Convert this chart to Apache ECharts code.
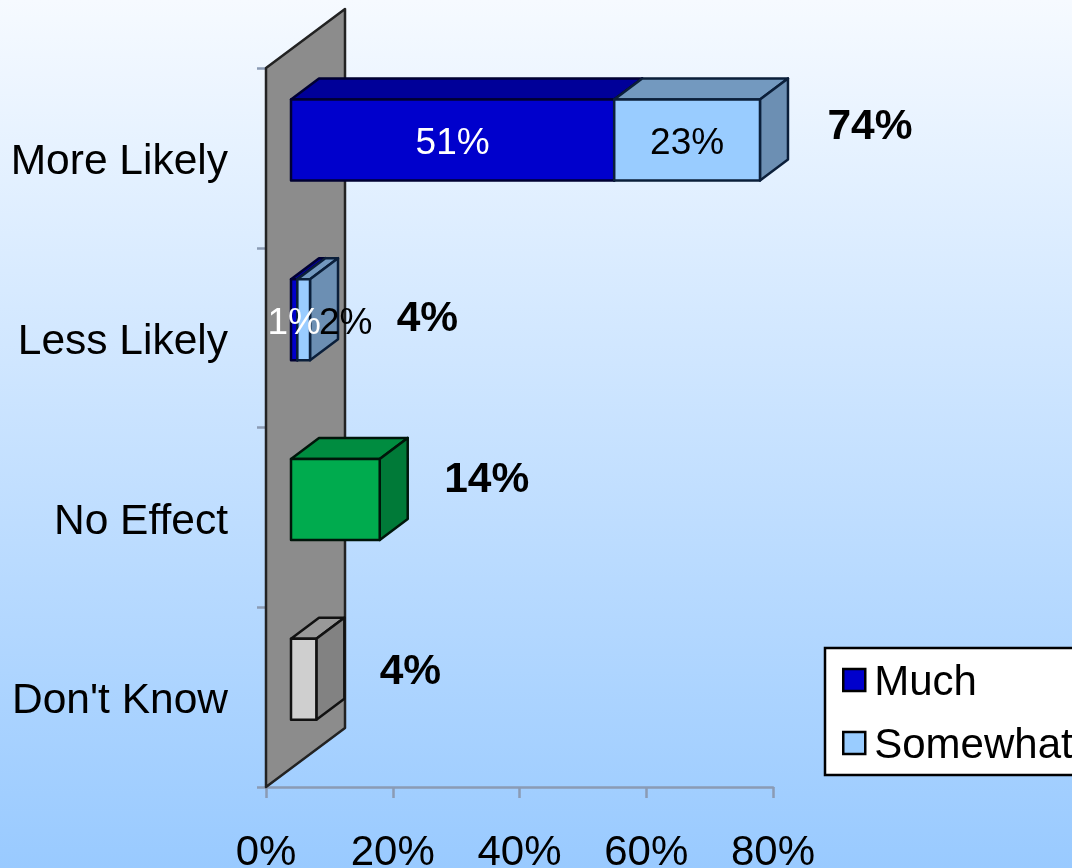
<!DOCTYPE html>
<html>
<head>
<meta charset="utf-8">
<style>html,body{margin:0;padding:0;overflow:hidden}#chart{width:1072px;height:868px}</style>
<script src="https://cdn.jsdelivr.net/npm/echarts@6/dist/echarts.min.js"></script>
</head>
<body>
<div id="chart"></div>
<script>
// Survey responses, in percent
const categories = ['More Likely', 'Less Likely', 'No Effect', "Don't Know"];
const much = [51, 1, null, null];
const somewhat = [23, 2, null, null];
const noEffect = [null, null, 14, null];
const dontKnow = [null, null, null, 4];
const totals = [74, 4, 14, 4];
const xTicks = { min: 0, max: 80, step: 20 };

// Hand-placed label shifts (pixels), one per category
const totalNudge = [[110, -13], [111, 0], [107, -19], [94, -7]];
const somewhatLabelNudge = [0, 42, 0, 0];

// Oblique projection used for every box and for the back wall
const FONT = '"Liberation Sans", Arial, sans-serif';
const FRONT_SHIFT = 25, BAR_H = 81, BAR_RISE = 18;
const DEPTH_X = 28, DEPTH_Y = 21;
const WALL_X = 79, WALL_Y = 59;

const palettes = {
  much: { front: '#0000cc', top: '#000099', side: '#000080', line: '#000033' },
  somewhat: { front: '#99ccff', top: '#7399bf', side: '#6c8fb3', line: '#0b1f3a' },
  noEffect: { front: '#00ab4e', top: '#008c40', side: '#007a38', line: '#00160a' },
  dontKnow: { front: '#cfcfcf', top: '#999999', side: '#828282', line: '#111111' }
};

function boxItem(palette) {
  return function (params, api) {
    const left = api.coord([api.value(0), api.value(2)]);
    const right = api.coord([api.value(1), api.value(2)]);
    const x0 = left[0] + FRONT_SHIFT, x1 = right[0] + FRONT_SHIFT;
    const y0 = left[1] - BAR_RISE - BAR_H / 2, y1 = y0 + BAR_H;
    const stroke = { stroke: palette.line, lineWidth: 2.5, lineJoin: 'round' };
    return {
      type: 'group',
      children: [
        { type: 'polygon', shape: { points: [[x0, y0], [x0 + DEPTH_X, y0 - DEPTH_Y], [x1 + DEPTH_X, y0 - DEPTH_Y], [x1, y0]] },
          style: Object.assign({ fill: palette.top }, stroke) },
        { type: 'polygon', shape: { points: [[x1, y0], [x1 + DEPTH_X, y0 - DEPTH_Y], [x1 + DEPTH_X, y1 - DEPTH_Y], [x1, y1]] },
          style: Object.assign({ fill: palette.side }, stroke) },
        { type: 'rect', shape: { x: x0, y: y0, width: x1 - x0, height: BAR_H },
          style: Object.assign({ fill: palette.front }, stroke) }
      ]
    };
  };
}

function boxSeries(name, values, base, palette) {
  const rows = [];
  values.forEach(function (v, i) {
    if (v !== null) rows.push([base ? base[i] : 0, (base ? base[i] : 0) + v, i]);
  });
  return {
    name: name, type: 'custom', coordinateSystem: 'cartesian2d', clip: false, z: 3,
    itemStyle: { color: palette.front },
    encode: { x: [0, 1], y: 2 },
    data: rows,
    renderItem: boxItem(palette)
  };
}

const wallSeries = {
  type: 'custom', coordinateSystem: 'cartesian2d', clip: false, z: 2, silent: true,
  encode: { x: 0 },
  data: [[xTicks.min]],
  renderItem: function (params, api) {
    const sys = params.coordSys;
    const x = sys.x, top = sys.y, bottom = sys.y + sys.height;
    return {
      type: 'polygon',
      shape: { points: [[x, top], [x + WALL_X, top - WALL_Y], [x + WALL_X, bottom - WALL_Y], [x, bottom]] },
      style: { fill: '#8c8c8c', stroke: '#222222', lineWidth: 2.5, lineJoin: 'round' }
    };
  }
};

// Value labels sit above every box so the narrow segments stay readable
const segmentRows = [];
categories.forEach(function (c, i) {
  if (much[i] !== null) segmentRows.push([much[i] / 2, i, much[i], '#ffffff', 0]);
  if (somewhat[i] !== null) segmentRows.push([much[i] + somewhat[i] / 2, i, somewhat[i], '#000000', somewhatLabelNudge[i]]);
});
const segmentLabels = {
  type: 'custom', coordinateSystem: 'cartesian2d', clip: false, z: 5, silent: true,
  data: segmentRows,
  renderItem: function (params, api) {
    const p = api.coord([api.value(0), api.value(1)]);
    const row = segmentRows[params.dataIndex];
    return {
      type: 'text',
      style: { text: row[2] + '%', x: p[0] + FRONT_SHIFT + row[4], y: p[1] - BAR_RISE + 4,
        fill: row[3], align: 'center', verticalAlign: 'middle', font: '37px ' + FONT }
    };
  }
};

const totalLabels = {
  type: 'custom', coordinateSystem: 'cartesian2d', clip: false, z: 5, silent: true,
  data: totals.map(function (t, i) { return [t, i]; }),
  renderItem: function (params, api) {
    const p = api.coord([api.value(0), api.value(1)]);
    const shift = totalNudge[params.dataIndex];
    return {
      type: 'text',
      style: { text: api.value(0) + '%', x: p[0] + FRONT_SHIFT + shift[0], y: p[1] - BAR_RISE + shift[1],
        fill: '#000000', align: 'center', verticalAlign: 'middle', font: 'bold 42.5px ' + FONT }
    };
  }
};

const axisGrey = '#8b9bb4';
const chart = echarts.init(document.getElementById('chart'), null, { renderer: 'canvas' });
chart.setOption({
  animation: false,
  backgroundColor: {
    type: 'linear', x: 0, y: 0, x2: 0, y2: 1,
    colorStops: [{ offset: 0, color: '#f6faff' }, { offset: 1, color: '#99caff' }]
  },
  grid: { left: 266, top: 68, width: 507, height: 719, outerBoundsMode: 'none' },
  xAxis: {
    type: 'value', min: xTicks.min, max: xTicks.max, interval: xTicks.step,
    splitLine: { show: false },
    axisLine: { show: true, lineStyle: { color: axisGrey, width: 2.5 } },
    axisTick: { show: true, length: 11, lineStyle: { color: axisGrey, width: 2.5 } },
    axisLabel: { formatter: '{value}%', color: '#000', fontFamily: FONT, fontSize: 42, margin: 45 }
  },
  yAxis: {
    type: 'category', inverse: true, data: categories,
    axisLine: { show: true, lineStyle: { color: axisGrey, width: 2.5 } },
    axisTick: { show: true, length: 9, lineStyle: { color: axisGrey, width: 2.5 } },
    axisLabel: { color: '#000', fontFamily: FONT, fontSize: 42.5, margin: 38, verticalAlign: 'top', padding: [-17, 0, 0, 0] }
  },
  legend: {
    data: ['Much', 'Somewhat'], orient: 'vertical', left: 825, top: 648,
    backgroundColor: '#ffffff', borderColor: '#000000', borderWidth: 2.5, borderRadius: 0,
    padding: [14, 40, 8, 17], itemWidth: 22, itemHeight: 22, itemGap: 21,
    icon: 'rect', selectedMode: false,
    itemStyle: { borderColor: '#000000', borderWidth: 2.5 },
    formatter: '{t|{name}}',
    textStyle: {
      color: '#000', fontFamily: FONT, fontSize: 42,
      rich: { t: { color: '#000', fontFamily: FONT, fontSize: 42, padding: [6, 0, 0, 4] } }
    }
  },
  series: [
    wallSeries,
    boxSeries('Much', much, null, palettes.much),
    boxSeries('Somewhat', somewhat, much, palettes.somewhat),
    boxSeries('No Effect', noEffect, null, palettes.noEffect),
    boxSeries("Don't Know", dontKnow, null, palettes.dontKnow),
    segmentLabels,
    totalLabels
  ]
});
</script>
</body>
</html>
